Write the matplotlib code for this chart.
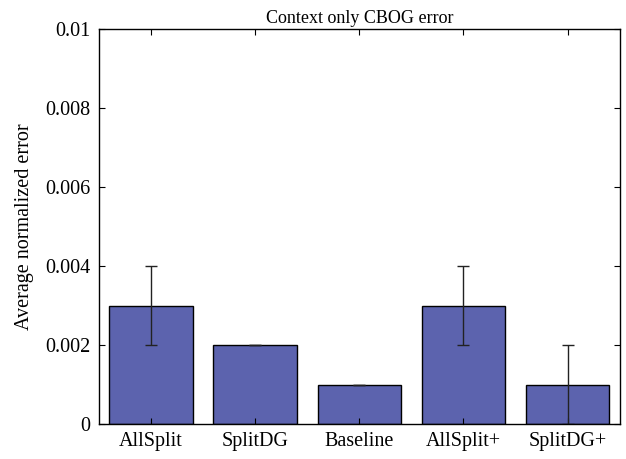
import numpy as np
import matplotlib
matplotlib.use("Agg")
import matplotlib.pyplot as plt

plt.rcParams['font.family'] = ['Liberation Serif', 'DejaVu Serif']

# average normalized error per method, with error bar half-widths
methods = ["AllSplit", "SplitDG", "Baseline", "AllSplit+", "SplitDG+"]
errors = [0.003, 0.002, 0.001, 0.003, 0.001]
spread = [0.001, 0.0, 0.0, 0.001, 0.001]
yticks = [0, 0.002, 0.004, 0.006, 0.008, 0.01]
yticklabels = ["0", "0.002", "0.004", "0.006", "0.008", "0.01"]

fig = plt.figure(figsize=(6.26, 4.59), dpi=100)
ax = fig.add_axes([0.158, 0.076, 0.832, 0.861])

x = np.arange(1, len(methods) + 1)
ax.bar(x, errors, width=0.8, color="#5c63ae", edgecolor="black", linewidth=1.0)
ax.errorbar(x, errors, yerr=spread, fmt="none", ecolor="#222222",
            elinewidth=1.0, capsize=4, capthick=1.0)

ax.set_xlim(0.5, 5.5)
ax.set_ylim(0, 0.01)
ax.set_xticks(x)
ax.set_xticklabels(methods, fontsize=14.5)
ax.set_yticks(yticks)
ax.set_yticklabels(yticklabels, fontsize=14.5)
ax.tick_params(direction="in", top=True, right=True, length=4, width=0.8, pad=6)
for s in ax.spines.values():
    s.set_linewidth(1.0)

ax.set_ylabel("Average normalized error", fontsize=14.5, labelpad=8)
ax.set_title("Context only CBOG error", fontsize=13, pad=4)

fig.savefig("out.png", dpi=100)
